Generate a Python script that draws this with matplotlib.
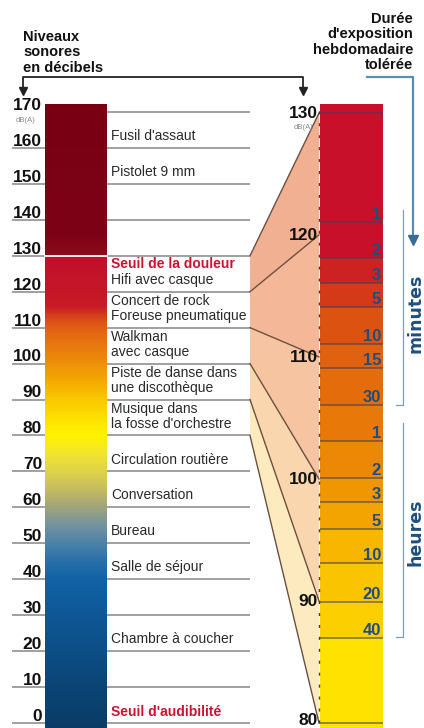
import matplotlib
matplotlib.use('Agg')
import matplotlib.pyplot as plt
import numpy as np
from matplotlib.colors import LinearSegmentedColormap
from matplotlib.patches import Polygon, Rectangle

plt.rcParams['font.family'] = ['Liberation Sans', 'DejaVu Sans']

W, H = 424, 728

# sound levels (dB) and what produces them
levels = [170, 160, 150, 140, 130, 120, 110, 100, 90, 80, 70, 60, 50, 40, 30, 20, 10, 0]
source_levels = [160, 150, 120, 110, 100, 90, 80, 70, 60, 50, 40, 20]
source_names = ["Fusil d'assaut", 'Pistolet 9 mm', 'Hifi avec casque',
                'Concert de rock\nForeuse pneumatique', 'Walkman\navec casque',
                'Piste de danse dans\nune discothèque', "Musique dans\nla fosse d'orchestre",
                'Circulation routière', 'Conversation', 'Bureau', 'Salle de séjour',
                'Chambre à coucher']
threshold_levels = [120, 0]
threshold_names = ['Seuil de la douleur', "Seuil d'audibilité"]

# colour of the left bar along the dB scale
bar_stops = [-1.4, 10, 20, 30, 40, 45, 50, 55, 60, 65, 70, 75, 80, 85, 90, 95,
             100, 105, 110, 113, 116, 129.9, 130.1, 136, 172.2]
bar_colors = ['#0a3c66', '#0b4576', '#0c4e86', '#0e5896', '#1262a6', '#2a70aa',
              '#4c82a8', '#7494a0', '#a0a47c', '#c4bc60', '#e0d24a', '#f2e630',
              '#fff200', '#fde000', '#fac800', '#f4aa00', '#ee9008', '#e8780e',
              '#e26014', '#d8441a', '#c81a28', '#c0102a', '#8c0c1c', '#7e0216',
              '#780012']

# weekly tolerated exposure
expo_levels = [121.1, 118.1, 116.1, 114.1, 111.1, 109.1, 106.1, 103.1, 100.1,
               98.1, 95.9, 93.1, 89.9, 87.0]
expo_labels = ['1', '2', '3', '5', '10', '15', '30', '1', '2', '3', '5', '10', '20', '40']
band_colors = ['#c8102a', '#c8102a', '#cc2222', '#d43a18', '#dc5210', '#e06210',
               '#e46c0a', '#e87808', '#ec8806', '#f09600', '#f4a400', '#f8b600',
               '#fac400', '#fcd000', '#ffe200']
right_levels = [130, 120, 110, 100, 90, 80]
fan_colors = ['#f2b092', '#f4b898', '#f7c4a2', '#fad6ae', '#fdeabe']

fig = plt.figure(figsize=(W / 100, H / 100), dpi=100)

# left scale: 0 dB at 5 px above bottom, 3.594 px per dB
ax1 = fig.add_axes([0, 0, 1, 1])
ax1.set_xlim(0, W)
ax1.set_ylim(-5 / 3.594, (H - 5) / 3.594)
ax1.axis('off')

# right scale: 80 dB at 5 px above bottom, 12.2 px per dB
ax2 = fig.add_axes([0, 0, 1, 1])
ax2.set_xlim(0, W)
ax2.set_ylim(80 - 5 / 12.2, 80 + (H - 5) / 12.2)
ax2.axis('off')
ax2.patch.set_visible(False)

# overlay in pixels for titles and arrows
ax0 = fig.add_axes([0, 0, 1, 1])
ax0.set_xlim(0, W)
ax0.set_ylim(H, 0)
ax0.axis('off')
ax0.patch.set_visible(False)

# grey rules
for v in levels:
    x0 = 12 if v < 170 else 107
    ax1.plot([x0, 250], [v, v], color='#a0a0a0', lw=1.4, zorder=1, solid_capstyle='butt')

# gradient bar
lo, hi = bar_stops[0], bar_stops[-1]
cmap = LinearSegmentedColormap.from_list(
    'db', [((s - lo) / (hi - lo), c) for s, c in zip(bar_stops, bar_colors)], N=1024)
grad = np.linspace(lo, hi, 800).reshape(-1, 1)
ax1.imshow(grad, cmap=cmap, vmin=lo, vmax=hi, origin='lower', aspect='auto',
           extent=(45, 107, lo, hi), zorder=2, interpolation='bilinear')
ax1.plot([45, 107], [130, 130], color='white', lw=1.3, zorder=3)
ax1.set_xlim(0, W)
ax1.set_ylim(-5 / 3.594, (H - 5) / 3.594)

for v in levels:
    ax1.text(42, v + 0.6, str(v), ha='right', va='baseline', fontsize=12.5,
             fontweight='bold', color='#111111')
ax1.text(26, 167.6, 'dB(A)', ha='center', va='center', fontsize=5.5, color='#888888')

for v, name in zip(source_levels, source_names):
    off = 5.3 if '\n' in name else 3.3
    ax1.text(111, v + off, name, ha='left', va='center', fontsize=10,
             color='#2a2a2a', linespacing=1.05)
for v, name in zip(threshold_levels, threshold_names):
    off = 7.7 if v in source_levels else 3.0
    ax1.text(111, v + off, name, ha='left', va='center', fontsize=10,
             fontweight='bold', color='#d0102e')

# fan between both scales
def to_left(x, v):
    return ax1.transData.inverted().transform(ax2.transData.transform((x, v)))

for i in range(len(right_levels) - 1):
    a, b = right_levels[i], right_levels[i + 1]
    pts = [(250, a), tuple(to_left(319, a)), tuple(to_left(319, b)), (250, b)]
    ax1.add_patch(Polygon(pts, closed=True, facecolor=fan_colors[i], edgecolor='none', zorder=1.5))
for v in right_levels:
    p = to_left(319, v)
    ax1.plot([250, p[0]], [v, p[1]], color='#6a5040', lw=1.0, zorder=1.6)

# exposure bar
bounds = [130.7] + expo_levels + [ax2.get_ylim()[0]]
for i in range(len(bounds) - 1):
    ax2.add_patch(Rectangle((320, bounds[i + 1]), 63, bounds[i] - bounds[i + 1],
                            facecolor=band_colors[i], edgecolor='none', zorder=2))
for v in [130] + expo_levels + [80]:
    ax2.plot([320, 383], [v, v], color='#40405a', alpha=0.6, lw=1.3, zorder=3,
             solid_capstyle='butt')
ax2.plot([319, 319], [80, 130.7], color='#503830', lw=1.0, ls=(0, (2.2, 6.4)), zorder=3)
for v, lab in zip(expo_levels, expo_labels):
    ax2.text(381, v + 0.6, lab, ha='right', va='center', fontsize=12,
             fontweight='bold', color='#1f4e7d', zorder=4)
for v in right_levels:
    ax2.text(318, v + (0.2 if v == 80 else 0), str(v), ha='right', va='center',
             fontsize=12.5, fontweight='bold', color='#111111', zorder=4)
ax2.text(304, 128.8, 'dB(A)', ha='center', va='center', fontsize=5.5, color='#888888')

# titles and arrows
ax0.text(23, 30, 'Niveaux\nsonores\nen décibels', ha='left', va='top', fontsize=10.5,
         fontweight='bold', color='#111111', linespacing=1.13)
ax0.text(413, 12, "Durée\nd'exposition\nhebdomadaire\ntolérée", ha='right', va='top',
         multialignment='right', fontsize=10.5, fontweight='bold', color='#111111',
         linespacing=1.13)
ax0.plot([23, 23, 303, 303], [88, 77, 77, 88], color='#222222', lw=1.3)
ax0.plot([23, 303], [91, 91], ls='none', marker='v', ms=6, color='#222222')
ax0.plot([367, 413, 413], [77, 77, 236], color='#5a8cb4', lw=1.6)
ax0.plot([413], [240], ls='none', marker='v', ms=7, color='#3a6c98')
ax0.plot([396, 403, 403], [405, 405, 210], color='#7f9fbf', lw=0.9)
ax0.plot([396, 403, 403], [637, 637, 423], color='#7f9fbf', lw=0.9)
ax0.text(415, 313, 'minutes', rotation=90, ha='center', va='center', fontsize=12.5,
         fontweight='bold', color='#1d4e7e', family='DejaVu Sans')
ax0.text(415, 532, 'heures', rotation=90, ha='center', va='center', fontsize=12.5,
         fontweight='bold', color='#1d4e7e', family='DejaVu Sans')

fig.savefig('out.png', dpi=100)
